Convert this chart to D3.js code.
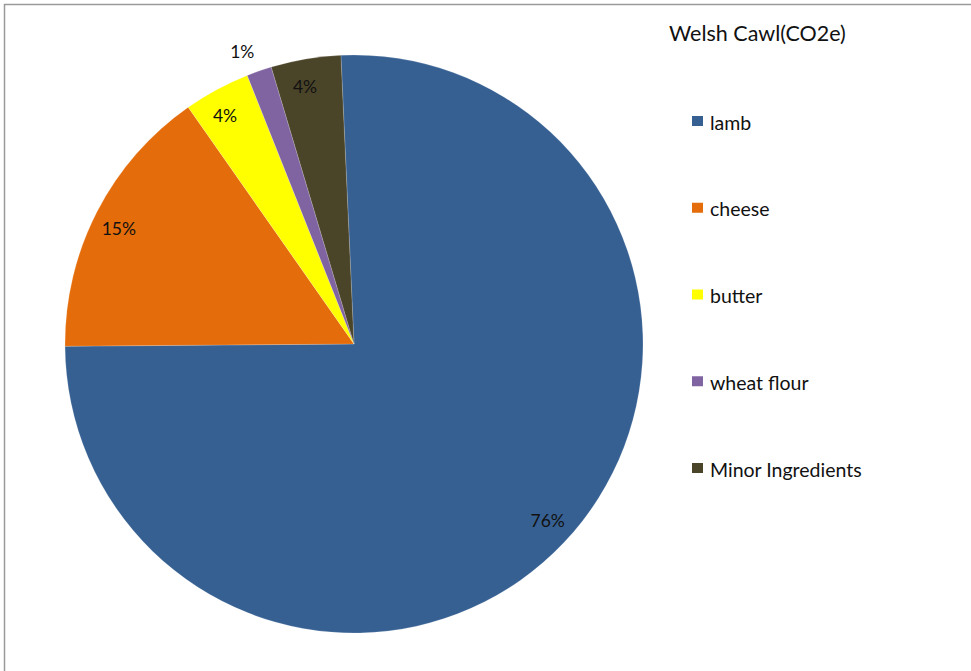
<!DOCTYPE html>
<html>
<head>
<meta charset="utf-8">
<script src="https://cdn.jsdelivr.net/npm/d3@7"></script>
<style>
  html, body { margin: 0; padding: 0; background: #fff; }
  svg { display: block; }
  text { font-family: "Lato", "Open Sans", sans-serif; fill: #111; }
</style>
</head>
<body>
<svg id="chart" width="971" height="671"></svg>
<script>
// Carbon footprint shares of a Welsh cawl, by ingredient (percent of CO2e)
const chartTitle = "Welsh Cawl(CO2e)";
const ingredients = ["lamb", "cheese", "butter", "wheat flour", "Minor Ingredients"];
const shares = [75.6, 15.4, 3.7, 1.4, 3.9];
const sliceColors = ["#366092", "#E46C0A", "#FFFF00", "#8064A2", "#4A4429"];

const W = 971, H = 671;
const cx = 354, cy = 344, radius = 289;
const firstSliceAngle = -2.6 * Math.PI / 180;

const svg = d3.select("#chart");

// chart area frame (top and left edges show, the rest runs off the page)
svg.append("rect")
  .attr("x", 4.5).attr("y", 4.5)
  .attr("width", W + 10).attr("height", H + 10)
  .attr("fill", "#fff")
  .attr("stroke", "#9a9a9a")
  .attr("stroke-width", 1.5);

const data = ingredients.map((name, i) => ({ name, value: shares[i], color: sliceColors[i] }));
const total = d3.sum(shares);

const pie = d3.pie()
  .sort(null)
  .value(d => d.value)
  .startAngle(firstSliceAngle)
  .endAngle(firstSliceAngle + 2 * Math.PI);

const arcs = pie(data);
const arc = d3.arc().innerRadius(0).outerRadius(radius);

const g = svg.append("g").attr("transform", `translate(${cx},${cy})`);

g.selectAll("path.slice")
  .data(arcs)
  .join("path")
  .attr("class", "slice")
  .attr("d", arc)
  .attr("fill", d => d.data.color)
  .attr("stroke", "rgba(255,255,255,0.35)")
  .attr("stroke-width", 0.5);

// percentage labels: inside near the rim, small slices get pushed outside
g.selectAll("text.pct")
  .data(arcs)
  .join("text")
  .attr("class", "pct")
  .attr("transform", d => {
    const small = d.data.value / total < 0.02;
    const mid = (d.startAngle + d.endAngle) / 2;
    // nudge the label slightly back toward the slice start, as the box sits inside the rim
    const a = small ? mid : mid - 0.02;
    const r = small ? radius + 24 : 262;
    const x = Math.sin(a) * r, y = -Math.cos(a) * r;
    return `translate(${small ? x - 9 : x},${small ? y + 3 : y})`;
  })
  .attr("text-anchor", "middle")
  .attr("dominant-baseline", "central")
  .style("font-size", "17.5px")
  .text(d => Math.round(d.data.value / total * 100) + "%");

// title
svg.append("text")
  .attr("x", 669).attr("y", 33)
  .attr("dominant-baseline", "central")
  .style("font-size", "21.5px")
  .text(chartTitle);

// legend
const legendY = d3.scalePoint().domain(ingredients).range([121, 468]);

const legend = svg.append("g").selectAll("g")
  .data(data)
  .join("g")
  .attr("transform", d => `translate(692,${legendY(d.name)})`);

legend.append("rect")
  .attr("x", 0).attr("y", -5)
  .attr("width", 11).attr("height", 10)
  .attr("fill", d => d.color);

legend.append("text")
  .attr("x", 18).attr("y", 1)
  .attr("dominant-baseline", "central")
  .style("font-size", "19.5px")
  .text(d => d.name);
</script>
</body>
</html>
